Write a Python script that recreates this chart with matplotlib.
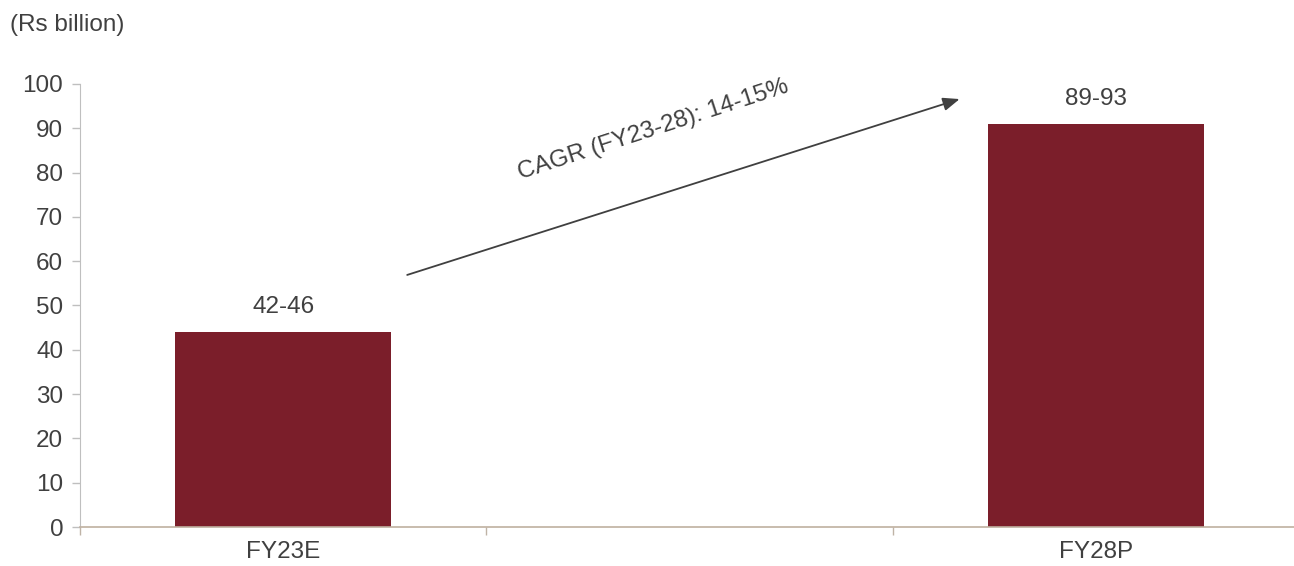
import matplotlib
matplotlib.use("Agg")
import matplotlib.pyplot as plt

categories = ["FY23E", "", "FY28P"]
values = [44, None, 91]
bar_labels = ["42-46", "", "89-93"]
y_ticks = list(range(0, 101, 10))
unit_label = "(Rs billion)"
cagr_text = "CAGR (FY23-28): 14-15%"

plt.rcParams['font.family'] = ['Liberation Sans', 'DejaVu Sans']
FS = 17.5
TXT = "#404040"

fig = plt.figure(figsize=(12.94, 5.66), dpi=100)
ax = fig.add_axes([0.0618, 0.0689, 0.9424, 0.7827])

bar_color = "#7b1e2a"
xs = [i for i, v in enumerate(values) if v is not None]
vs = [v for v in values if v is not None]
labs = [l for l, v in zip(bar_labels, values) if v is not None]
ax.bar(xs, vs, width=0.53, color=bar_color, zorder=2)
for x, v, lab in zip(xs, vs, labs):
    ax.annotate(lab, (x, v), xytext=(0, 18), textcoords="offset points",
                ha="center", va="center", fontsize=FS, color=TXT)

ax.set_xlim(-0.5, len(categories) - 0.5)
ax.set_ylim(0, 100)
ax.set_yticks(y_ticks)
ax.tick_params(axis='y', labelsize=FS, labelcolor=TXT, color="#bfbfbf",
               length=6, width=1, direction='out', pad=6)

ax.set_xticks(range(len(categories)))
ax.set_xticklabels(categories, fontsize=FS, color=TXT)
ax.tick_params(axis='x', which='major', length=0, pad=10)
ax.set_xticks([i + 0.5 for i in range(len(categories) - 1)] + [-0.5], minor=True)
ax.tick_params(axis='x', which='minor', length=6, width=1, color="#bfb3a6", direction='out')

for s in ["top", "right"]:
    ax.spines[s].set_visible(False)
ax.spines["left"].set_color("#bfbfbf")
ax.spines["bottom"].set_color("#bfb0a0")
ax.spines["bottom"].set_linewidth(1.2)

ax.annotate("", xy=(1.664, 96.6), xytext=(0.305, 56.9),
            arrowprops=dict(arrowstyle="-|>,head_length=1.0,head_width=0.4",
                            color=TXT, lw=1.3, shrinkA=0, shrinkB=0))
ax.text(0.91, 89.6, cagr_text, rotation=18, ha="center", va="center",
        fontsize=FS, color=TXT, rotation_mode="anchor")

fig.text(0.008, 0.955, unit_label, fontsize=FS, color=TXT, ha="left", va="center")

fig.savefig("out.png", dpi=100)
